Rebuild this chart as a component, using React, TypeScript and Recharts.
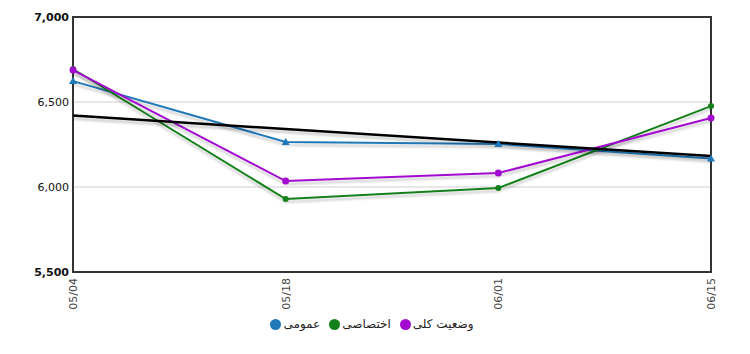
import React from 'react';
import { LineChart, Line, XAxis, YAxis, CartesianGrid, Legend, ReferenceArea } from 'recharts';

const dates = ['05/04', '05/18', '06/01', '06/15'];
const omoomi = [6623, 6265, 6253, 6168];
const ekhtesasi = [6694, 5929, 5994, 6476];
const kolli = [6688, 6035, 6082, 6406];
const trend = [6420, null, null, 6182];
const yTicks = [5500, 6000, 6500, 7000];
const legendOrder = ['عمومی', 'اختصاصی', 'وضعیت کلی'];

const data = dates.map((d, i) => ({
    date: d,
    omoomi: omoomi[i],
    ekhtesasi: ekhtesasi[i],
    kolli: kolli[i],
    trend: trend[i],
}));

const font = '"DejaVu Sans", Verdana, sans-serif';

const YTick = (props: any) => {
    const { x, y, payload } = props;
    const bold = payload.value === 7000 || payload.value === 5500;
    return (
        <text x={x - 2} y={y} dy="0.35em" textAnchor="end" fontSize={11} fontFamily={font}
            fontWeight={bold ? 'bold' : 'normal'} fill="#111">
            {payload.value.toLocaleString('en-US')}
        </text>
    );
};

const XTick = (props: any) => {
    const { x, y, payload } = props;
    return (
        <g transform={`translate(${x},${y})`}>
            <text transform="rotate(-90)" x={-4} dy="0.35em" textAnchor="end" fontSize={11}
                fontFamily={font} fill="#444">
                {payload.value}
            </text>
        </g>
    );
};

const Triangle = (props: any) => {
    const { cx, cy, stroke } = props;
    if (cx == null || cy == null) return null;
    return <path d={`M${cx},${cy - 4}L${cx + 4},${cy + 3}L${cx - 4},${cy + 3}Z`} fill={stroke} />;
};

const LegendContent = (props: any) => {
    const items = (props.payload || [])
        .filter((p: any) => legendOrder.includes(p.value))
        .sort((a: any, b: any) => legendOrder.indexOf(a.value) - legendOrder.indexOf(b.value));
    return (
        <div style={{ display: 'flex', justifyContent: 'center', gap: 9, marginLeft: -6 }}>
            {items.map((p: any) => (
                <div key={p.value} style={{ display: 'flex', alignItems: 'center', gap: 2 }}>
                    <svg width={11} height={11}>
                        <circle cx={5.5} cy={5.5} r={5.5} fill={p.color} />
                    </svg>
                    <span style={{ fontFamily: font, fontSize: 12, color: '#222' }}>{p.value}</span>
                </div>
            ))}
        </div>
    );
};

export default function App() {
    return (
        <div style={{ position: 'absolute', left: 0, top: 0, width: 750, height: 354, background: '#fff' }}>
            <style>{`.recharts-line-curve { filter: drop-shadow(0px 3px 1px rgba(0,0,0,0.2)); }`}</style>
            <LineChart width={750} height={354} data={data} margin={{ top: 17, right: 39, left: 0, bottom: 0 }}>
                <CartesianGrid stroke="#cfcfcf" vertical={false} />
                <XAxis dataKey="date" tick={<XTick />} tickLine={false} tickSize={0} axisLine={false}
                    height={45} interval={0} />
                <YAxis domain={[5500, 7000]} ticks={yTicks} tick={<YTick />} tickLine={false} tickSize={0}
                    axisLine={false} width={73} />
                <ReferenceArea x1="05/04" x2="06/15" y1={5500} y2={7000} fill="none" fillOpacity={0}
                    stroke="#333" strokeWidth={2} ifOverflow="visible" />
                <Line dataKey="omoomi" name="عمومی" stroke="#1f78b8" strokeWidth={2}
                    dot={<Triangle />} isAnimationActive={false} legendType="circle" />
                <Line dataKey="ekhtesasi" name="اختصاصی" stroke="#13801a" strokeWidth={2}
                    dot={{ r: 3, fill: '#13801a', strokeWidth: 0 }} isAnimationActive={false} legendType="circle" />
                <Line dataKey="kolli" name="وضعیت کلی" stroke="#a30ad0" strokeWidth={2}
                    dot={{ r: 3.5, fill: '#a30ad0', strokeWidth: 0 }} isAnimationActive={false} legendType="circle" />
                <Line dataKey="trend" stroke="#000" strokeWidth={2.5} dot={false} connectNulls
                    isAnimationActive={false} legendType="none" />
                <Legend verticalAlign="bottom" height={37} content={<LegendContent />}
                    wrapperStyle={{ left: 0, width: 750, paddingTop: 0 }} />
            </LineChart>
        </div>
    );
}
